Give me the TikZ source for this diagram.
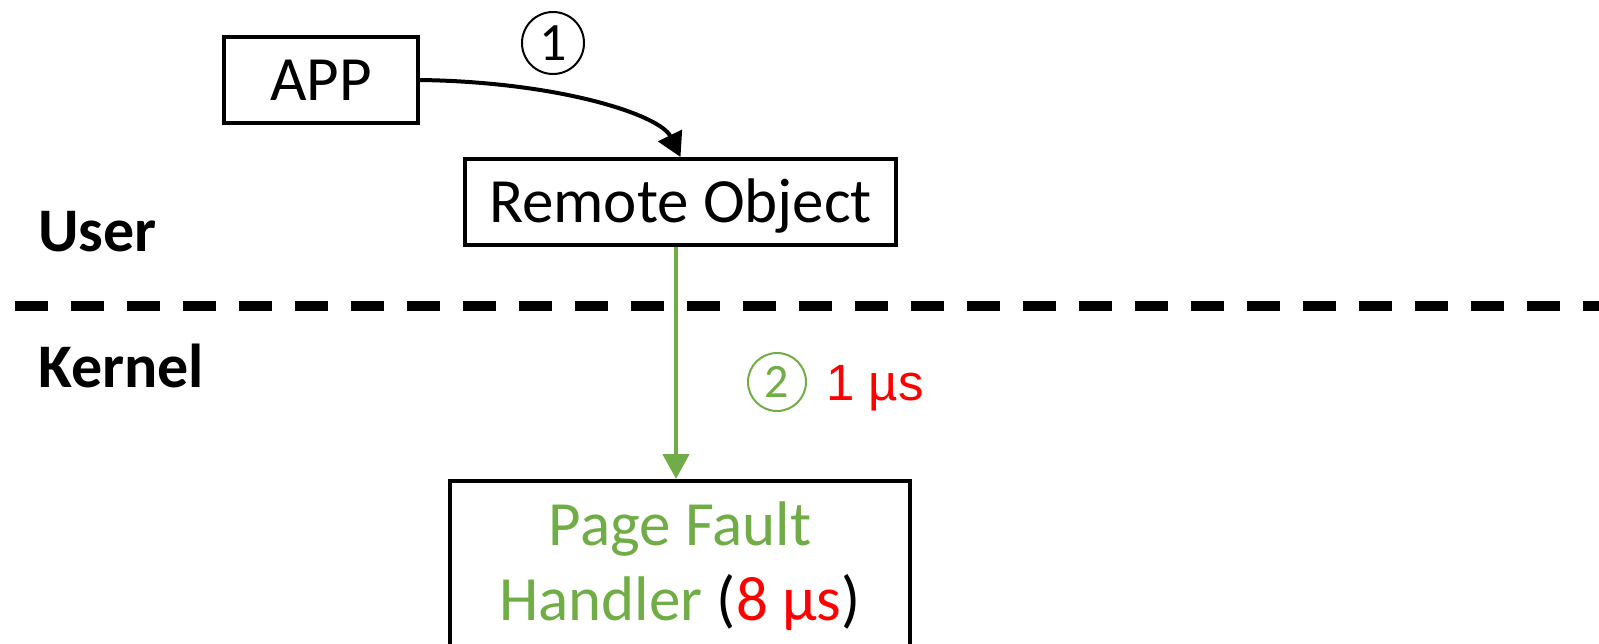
\documentclass[tikz,border=0pt]{standalone}
\usepackage{fontspec}
\setmainfont{Carlito}
\newfontfamily\arialfont{Liberation Sans}
\usetikzlibrary{arrows.meta,positioning,calc}
\definecolor{faultgreen}{HTML}{70AD47}
\definecolor{costred}{HTML}{FF0000}

\begin{document}
\begin{tikzpicture}[
    x=0.5pt, y=-0.5pt,
    box/.style={draw=black, line width=2pt, minimum height=43pt, text height=20pt, text depth=0pt, font=\fontsize{31.5}{36}\selectfont},
    layer/.style={anchor=base west, inner sep=0pt, font=\fontsize{31}{36}\selectfont\bfseries},
    label/.style={anchor=base, inner sep=0pt, font=\fontsize{31.5}{36}\selectfont},
    stepnum/.style={circle, draw, line width=1pt, inner sep=0pt, minimum size=31pt},
    callarrow/.style={-{Triangle[length=12pt,width=13pt]}, line width=2pt},
    faultarrow/.style={-{Triangle[length=12.5pt,width=13pt]}, line width=2.2pt, color=faultgreen},
    divider/.style={line width=5pt, dash pattern=on 16.5pt off 11.5pt},
]
\useasboundingbox (0,0) rectangle (1599,643);
\clip (0,0) rectangle (1599,643);

% --- User space ---
\node[box, minimum width=97pt] (app) at (321,80) {APP};
\node[box, minimum width=215.5pt] (remote) at (680.5,202) {Remote Object};
\node[layer] (user) at (38,251) {User};

% --- Boundary ---
\coordinate (divl) at (15,306);
\coordinate (divr) at (1599,306);
\draw[divider] (divl) -- (divr);

% --- Kernel space ---
\node[layer] (kernel) at (38,387) {Kernel};
\node[draw, line width=2pt, minimum width=230pt, minimum height=150pt, anchor=north] (pfh) at (680,479) {};
\node[label, text=faultgreen] (pfhtop) at ($(pfh.north)+(0,66)$) {Page Fault};
\node[label] (pfhbot) at ($(pfh.north)+(0,141)$) {\textcolor{faultgreen}{Handler} (\textcolor{costred}{8 µs})};

% --- Arrows ---
\draw[callarrow] (app.east) .. controls (560,82) and (660,115) .. (remote.north);
\node[stepnum, font=\fontsize{27}{30}\selectfont] (s1) at (553,43) {1};
\draw[faultarrow] ([xshift=-2.25pt]remote.south) -- ([xshift=-2pt]pfh.north);
\node[stepnum, draw=faultgreen, text=faultgreen, minimum size=29pt, font=\fontsize{24}{28}\selectfont] (s2) at (777,382) {2};
\node[anchor=base west, inner sep=0pt, text=costred, font=\arialfont\fontsize{25.5}{30}\selectfont] (lat) at (826,400) {1 µs};

\end{tikzpicture}
\end{document}
